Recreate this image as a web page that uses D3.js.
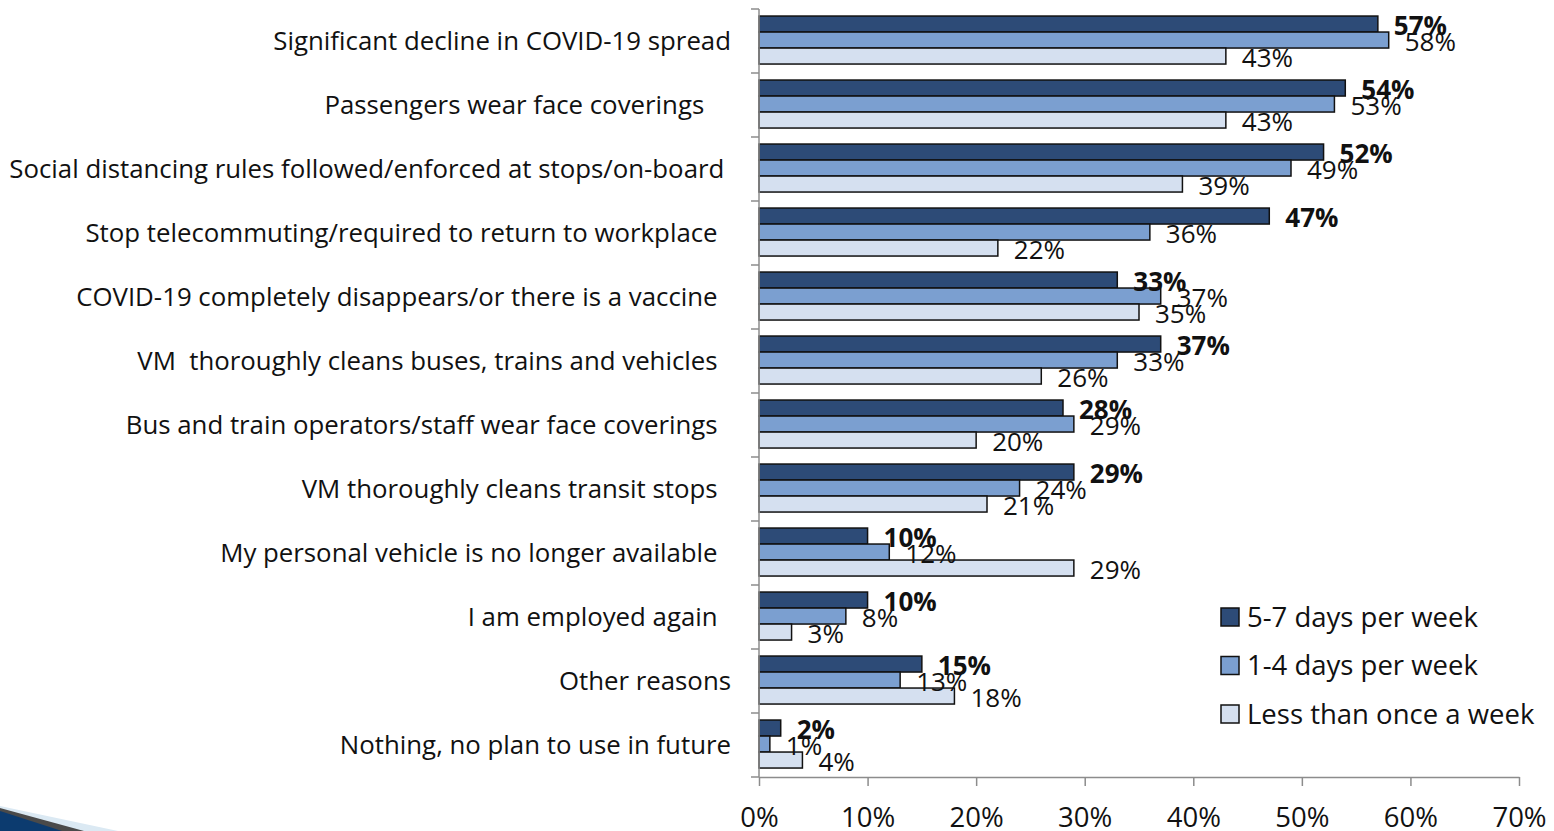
<!DOCTYPE html>
<html>
<head>
<meta charset="utf-8">
<script src="https://cdn.jsdelivr.net/npm/d3@7"></script>
<style>
  html, body { margin: 0; padding: 0; background: #fff; }
  svg { display: block; font-family: "Open Sans", Lato, sans-serif; }
  .cat { white-space: pre; }
</style>
</head>
<body>
<svg id="chart" width="1554" height="831"></svg>
<script>
// Reasons for returning to transit, by current riding frequency
const categories = [
  "Significant decline in COVID-19 spread",
  "Passengers wear face coverings    ",
  "Social distancing rules followed/enforced at stops/on-board ",
  "Stop telecommuting/required to return to workplace  ",
  "COVID-19 completely disappears/or there is a vaccine  ",
  "VM  thoroughly cleans buses, trains and vehicles  ",
  "Bus and train operators/staff wear face coverings  ",
  "VM thoroughly cleans transit stops  ",
  "My personal vehicle is no longer available  ",
  "I am employed again  ",
  "Other reasons",
  "Nothing, no plan to use in future"
];
const seriesNames = ["5-7 days per week", "1-4 days per week", "Less than once a week"];
const days5to7 = [57, 54, 52, 47, 33, 37, 28, 29, 10, 10, 15, 2];
const days1to4 = [58, 53, 49, 36, 37, 33, 29, 24, 12, 8, 13, 1];
const lessThanWeekly = [43, 43, 39, 22, 35, 26, 20, 21, 29, 3, 18, 4];
const tickValues = [0, 10, 20, 30, 40, 50, 60, 70];

const colors = ["#2d4b77", "#7b9fd0", "#d5e0f0"];
const seriesValues = [days5to7, days1to4, lessThanWeekly];
const catFont = 25.8, valueFont = 26, tickFont = 27.5, legendFont = 27.5;

const svg = d3.select("#chart");
const x = d3.scaleLinear().domain([0, 70]).range([759, 1519]);
const y = d3.scaleBand().domain(categories).range([9, 777]);
const inner = d3.scaleBand().domain(seriesNames)
  .range([y.bandwidth() * 0.11, y.bandwidth() * 0.86]);

// decorative swoosh in the lower-left corner
const deco = svg.append("g");
deco.append("path").attr("d", "M0,806 L118,831 L0,831 Z").attr("fill", "#dbe9f3");
deco.append("path").attr("d", "M0,808 L84,831 L0,831 Z").attr("fill", "#4a4a4a");
deco.append("path").attr("d", "M0,811 L62,831 L0,831 Z").attr("fill", "#0c3b6f");

// bars
const groups = svg.append("g").selectAll("g")
  .data(categories)
  .join("g")
  .attr("transform", d => `translate(0,${y(d)})`);

groups.each(function(cat, ci) {
  const g = d3.select(this);
  seriesNames.forEach((s, si) => {
    const v = seriesValues[si][ci];
    g.append("rect")
      .attr("x", x(0))
      .attr("y", inner(s))
      .attr("width", x(v) - x(0))
      .attr("height", inner.bandwidth())
      .attr("fill", colors[si])
      .attr("stroke", "#111")
      .attr("stroke-width", 1.5);
  });
});

// value labels
groups.each(function(cat, ci) {
  const g = d3.select(this);
  seriesNames.forEach((s, si) => {
    const v = seriesValues[si][ci];
    g.append("text")
      .attr("x", x(v) + 16)
      .attr("y", inner(s) + inner.bandwidth() / 2 + 2)
      .attr("dy", "0.35em")
      .attr("font-size", valueFont)
      .attr("font-weight", si === 0 ? "bold" : "normal")
      .attr("fill", "#111")
      .text(v + "%");
  });
});

// y axis
const yAxis = svg.append("g").attr("transform", `translate(${x(0)},0)`);
yAxis.append("line").attr("x1", 0).attr("x2", 0).attr("y1", 9).attr("y2", 777)
  .attr("stroke", "#8c8c8c").attr("stroke-width", 1.5);
yAxis.selectAll("line.tick")
  .data(categories.map(c => y(c)).concat([777]))
  .join("line").attr("class", "tick")
  .attr("x1", -8).attr("x2", 0).attr("y1", d => d).attr("y2", d => d)
  .attr("stroke", "#8c8c8c").attr("stroke-width", 1.5);

svg.append("g").selectAll("text")
  .data(categories)
  .join("text")
  .attr("class", "cat")
  .attr("x", 731)
  .attr("y", d => y(d) + y.bandwidth() / 2)
  .attr("dy", "0.35em")
  .attr("text-anchor", "end")
  .attr("font-size", catFont)
  .attr("fill", "#111")
  .text(d => d);

// x axis
const xAxis = d3.axisBottom(x).tickValues(tickValues).tickFormat(d => d + "%")
  .tickSize(9).tickSizeOuter(0).tickPadding(21);
const xg = svg.append("g").attr("transform", "translate(0,777)").call(xAxis);
xg.select(".domain").attr("stroke", "#8c8c8c").attr("stroke-width", 1.5);
xg.selectAll(".tick line").attr("stroke", "#8c8c8c").attr("stroke-width", 1.5);
xg.selectAll(".tick text").attr("font-size", tickFont).attr("fill", "#111")
  .attr("font-family", "'Open Sans', Lato, sans-serif");

// legend
const legend = svg.append("g").attr("transform", "translate(1221,617)");
seriesNames.forEach((s, i) => {
  const row = legend.append("g").attr("transform", `translate(0,${i * 48.5})`);
  row.append("rect").attr("x", 0).attr("y", -9).attr("width", 18).attr("height", 18)
    .attr("fill", colors[i]).attr("stroke", "#111").attr("stroke-width", 1.5);
  row.append("text").attr("x", 26).attr("y", 0).attr("dy", "0.35em")
    .attr("font-size", legendFont).attr("fill", "#111").text(s);
});
</script>
</body>
</html>
